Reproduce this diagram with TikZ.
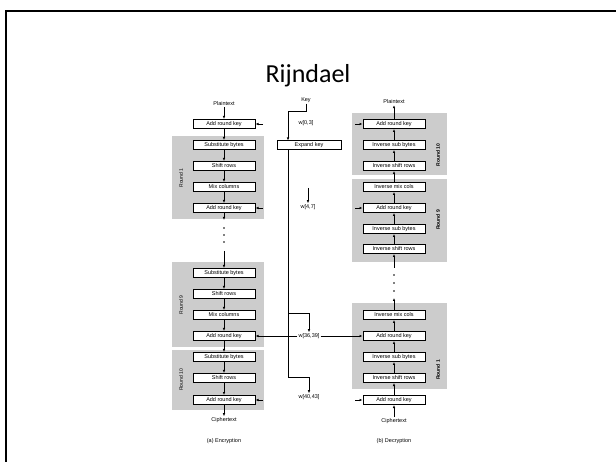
\documentclass[tikz,border=0pt]{standalone}
\usepackage{fontspec}
\setmainfont{Carlito}
\newfontfamily\figfont{Liberation Sans}
\usetikzlibrary{arrows.meta, positioning}

\begin{document}
\begin{tikzpicture}[
                x = 1pt, y = -1pt,
                stepbox/.style = {
                    rectangle,
                    draw            = black,
                    line width      = 1pt,
                    fill            = white,
                    minimum width   = 62pt,
                    minimum height  = 9pt,
                    inner sep       = 0pt,
                    font            = \figfont\fontsize{5.5}{6}\selectfont
                },
                roundbg/.style   = {fill = black!20, draw = none},
                roundtag/.style  = {rotate = 90, font = \figfont\fontsize{5}{6}\selectfont},
                flowlabel/.style = {font = \figfont\fontsize{5.5}{6}\selectfont, inner sep = 1pt},
                flowarrow/.style = {-{Latex[length = 3pt, width = 2.5pt]}, line width = 0.8pt},
                flowline/.style  = {line width = 0.8pt}
            ]

                \useasboundingbox (0, 0) rectangle (616, 462);
                \draw[line width = 2.2pt] (6, 462) -- (6, 11) -- (616, 11);
                \node[font = \fontsize{26}{30}\selectfont] (title) at (308, 76) {Rijndael};

                % round backgrounds
                \fill[roundbg] (172, 136) rectangle (264, 219);
                \fill[roundbg] (172, 262) rectangle (264, 347);
                \fill[roundbg] (172, 350) rectangle (264, 410);
                \fill[roundbg] (352, 113) rectangle (447, 175);
                \fill[roundbg] (352, 179) rectangle (447, 262);
                \fill[roundbg] (352, 303) rectangle (447, 389);

                \node[roundtag] (etag1)  at (181, 178) {Round 1};
                \node[roundtag] (etag9)  at (181, 305) {Round 9};
                \node[roundtag] (etag10) at (181, 380) {Round 10};
                \node[roundtag, font = \figfont\bfseries\fontsize{5}{6}\selectfont] (dtag10) at (438, 155) {Round 10};
                \node[roundtag, font = \figfont\bfseries\fontsize{5}{6}\selectfont] (dtag9)  at (438, 220) {Round 9};
                \node[roundtag, font = \figfont\bfseries\fontsize{5}{6}\selectfont] (dtag1)  at (438, 370) {Round 1};

                % encryption
                \node[flowlabel] (eplain)  at (224, 104) {Plaintext};
                \node[stepbox]   (eadd0)   at (224, 124) {Add round key};
                \node[stepbox]   (esub1)   at (224, 145) {Substitute bytes};
                \node[stepbox]   (eshf1)   at (224, 166) {Shift rows};
                \node[stepbox]   (emix1)   at (224, 187) {Mix columns};
                \node[stepbox]   (eadd1)   at (224, 208) {Add round key};
                \node[stepbox]   (esub9)   at (224, 273) {Substitute bytes};
                \node[stepbox]   (eshf9)   at (224, 294) {Shift rows};
                \node[stepbox]   (emix9)   at (224, 315) {Mix columns};
                \node[stepbox]   (eadd9)   at (224, 336) {Add round key};
                \node[stepbox]   (esub10)  at (224, 357) {Substitute bytes};
                \node[stepbox]   (eshf10)  at (224, 378) {Shift rows};
                \node[stepbox]   (eadd10)  at (224, 400) {Add round key};
                \node[flowlabel] (ecipher) at (224, 420) {Ciphertext};
                \node[flowlabel] (ecap)    at (224, 441) {(a) Encryption};
                \coordinate (egapA) at (224, 220);
                \coordinate (egapB) at (224, 251);

                \draw[flowarrow] (eplain) -- (eadd0);
                \draw[flowarrow] (eadd0) -- (esub1);
                \draw[flowarrow] (esub1) -- (eshf1);
                \draw[flowarrow] (eshf1) -- (emix1);
                \draw[flowarrow] (emix1) -- (eadd1);
                \draw[flowarrow] (eadd1) -- (egapA);
                \fill (224, 228) circle (0.9) (224, 235) circle (0.9) (224, 242) circle (0.9);
                \draw[flowarrow] (egapB) -- (esub9);
                \draw[flowarrow] (esub9) -- (eshf9);
                \draw[flowarrow] (eshf9) -- (emix9);
                \draw[flowarrow] (emix9) -- (eadd9);
                \draw[flowarrow] (eadd9) -- (esub10);
                \draw[flowarrow] (esub10) -- (eshf10);
                \draw[flowarrow] (eshf10) -- (eadd10);
                \draw[flowarrow] (eadd10) -- (ecipher);

                % decryption
                \node[flowlabel] (dplain)  at (394, 102) {Plaintext};
                \node[stepbox]   (dadd10)  at (394, 124) {Add round key};
                \node[stepbox]   (dsub10)  at (394, 145) {Inverse sub bytes};
                \node[stepbox]   (dshf10)  at (394, 166) {Inverse shift rows};
                \node[stepbox]   (dmix9)   at (394, 187) {Inverse mix cols};
                \node[stepbox]   (dadd9)   at (394, 208) {Add round key};
                \node[stepbox]   (dsub9)   at (394, 229) {Inverse sub bytes};
                \node[stepbox]   (dshf9)   at (394, 249) {Inverse shift rows};
                \node[stepbox]   (dmix1)   at (394, 315) {Inverse mix cols};
                \node[stepbox]   (dadd1)   at (394, 336) {Add round key};
                \node[stepbox]   (dsub1)   at (394, 357) {Inverse sub bytes};
                \node[stepbox]   (dshf1)   at (394, 378) {Inverse shift rows};
                \node[stepbox]   (dadd0)   at (394, 400) {Add round key};
                \node[flowlabel] (dcipher) at (394, 421) {Ciphertext};
                \node[flowlabel] (dcap)    at (394, 441) {(b) Decryption};
                \coordinate (dgapA) at (394, 298);
                \coordinate (dgapB) at (394, 268);

                \draw[flowarrow] (dcipher) -- (dadd0);
                \draw[flowarrow] (dadd0) -- (dshf1);
                \draw[flowarrow] (dshf1) -- (dsub1);
                \draw[flowarrow] (dsub1) -- (dadd1);
                \draw[flowarrow] (dadd1) -- (dmix1);
                \draw[flowarrow] (dmix1) -- (dgapA);
                \fill (394, 291) circle (0.9) (394, 283) circle (0.9) (394, 275) circle (0.9);
                \draw[flowarrow] (dgapB) -- (dshf9);
                \draw[flowarrow] (dshf9) -- (dsub9);
                \draw[flowarrow] (dsub9) -- (dadd9);
                \draw[flowarrow] (dadd9) -- (dmix9);
                \draw[flowarrow] (dmix9) -- (dshf10);
                \draw[flowarrow] (dshf10) -- (dsub10);
                \draw[flowarrow] (dsub10) -- (dadd10);
                \draw[flowarrow] (dadd10) -- (dplain);

                % round key inputs
                \coordinate (ekey0)  at (263, 124);
                \coordinate (ekey1)  at (263, 208);
                \coordinate (ekey10) at (263, 400);
                \coordinate (dkey10) at (355, 124);
                \coordinate (dkey9)  at (355, 208);
                \coordinate (dkey0)  at (355, 400);
                \draw[flowarrow] (ekey0) -- (eadd0);
                \draw[flowarrow] (ekey1) -- (eadd1);
                \draw[flowarrow] (ekey10) -- (eadd10);
                \draw[flowarrow] (dkey10) -- (dadd10);
                \draw[flowarrow] (dkey9) -- (dadd9);
                \draw[flowarrow] (dkey0) -- (dadd0);

                % key expansion
                \node[flowlabel] (key)    at (306, 100) {Key};
                \node[flowlabel] (w03)    at (306, 123) {w[0,3]};
                \node[stepbox, minimum width = 64pt] (expand) at (309, 145.5) {Expand key};
                \node[flowlabel] (w47)    at (308, 207) {w[4,7]};
                \node[flowlabel] (w3639)  at (309, 336) {w[36,39]};
                \node[flowlabel] (w4043)  at (309, 397) {w[40,43]};
                \coordinate (kturn)  at (306, 111);
                \coordinate (ktrunk) at (288, 150);
                \coordinate (ksplit) at (288, 313);
                \coordinate (kend)   at (288, 377);
                \coordinate (w47top) at (308, 188);

                \draw[flowarrow] (key) -- (kturn) -| (expand.north -| ktrunk);
                \draw[flowline] (ktrunk) -- (kend);
                \draw[flowarrow] (ksplit) -- (ksplit -| w3639) -- (w3639);
                \draw[flowarrow] (kend) -- (kend -| w4043) -- (w4043);
                \draw[flowarrow] (w47top) -- (w47);
                \draw[flowarrow] (w3639) -- (eadd9);
                \draw[flowarrow] (w3639) -- (dadd1);
            \end{tikzpicture}
\end{document}
